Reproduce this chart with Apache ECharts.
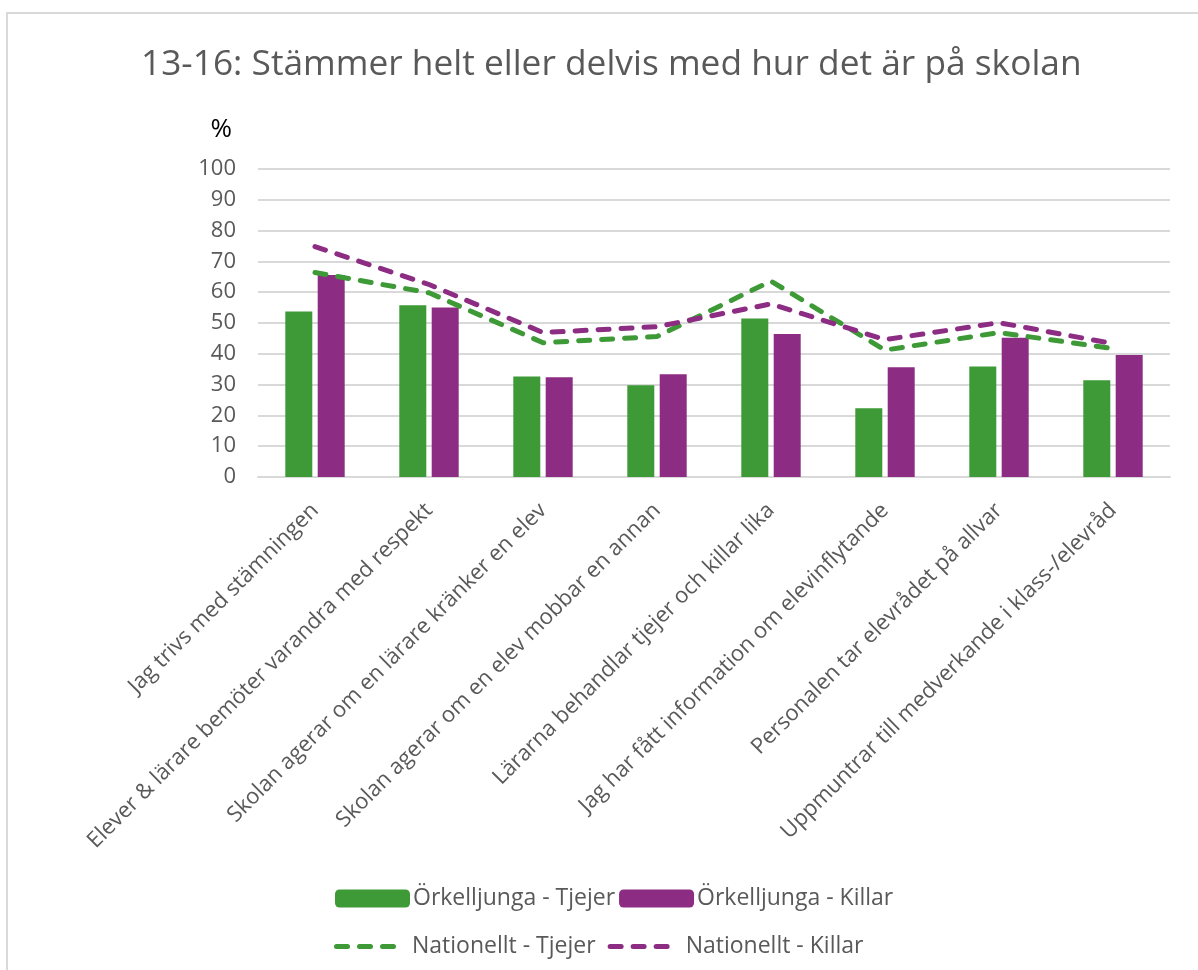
<!DOCTYPE html>
<html>
<head>
<meta charset="utf-8">
<title>13-16</title>
<script src="https://cdn.jsdelivr.net/npm/echarts@6/dist/echarts.min.js"></script>
<style>
    html, body { margin: 0; padding: 0; background: #fff; }
    #frame { position: absolute; left: 6px; top: 12px; width: 1200px; height: 1000px; border: 2px solid #d9d9d9; box-sizing: border-box; }
    #chart { position: absolute; left: 0; top: 0; width: 1198px; height: 970px; }
</style>
</head>
<body>
<div id="frame"></div>
<div id="chart"></div>
<script>
    var categories = [
        'Jag trivs med stämningen',
        'Elever & lärare bemöter varandra med respekt',
        'Skolan agerar om en lärare kränker en elev',
        'Skolan agerar om en elev mobbar en annan',
        'Lärarna behandlar tjejer och killar lika',
        'Jag har fått information om elevinflytande',
        'Personalen tar elevrådet på allvar',
        'Uppmuntrar till medverkande i klass-/elevråd'
    ];
    var orkTjejer = [53.7, 55.8, 32.6, 29.8, 51.5, 22.3, 35.9, 31.4];
    var orkKillar = [65.6, 55.0, 32.4, 33.4, 46.4, 35.6, 45.2, 39.6];
    var natTjejer = [66.4, 59.8, 43.6, 45.6, 63.6, 41.2, 46.9, 41.7];
    var natKillar = [74.8, 62.5, 46.9, 48.8, 56.2, 44.6, 50.1, 43.3];

    var green = '#3d9a36';
    var purple = '#8c2d83';
    var textColor = '#595959';
    var font = 'Open Sans';
    // three short dashes for the line legend icon
    var dashIcon = 'path://M2.5,0h11a2.5,2.5 0 0 1 0,5h-11a2.5,2.5 0 0 1 0,-5z' +
        'M25.5,0h11a2.5,2.5 0 0 1 0,5h-11a2.5,2.5 0 0 1 0,-5z' +
        'M48.5,0h11a2.5,2.5 0 0 1 0,5h-11a2.5,2.5 0 0 1 0,-5z';

    var myChart = echarts.init(document.getElementById('chart'));
    var option = {
        backgroundColor: 'transparent',
        textStyle: { fontFamily: font },
        title: {
            text: '13-16: Stämmer helt eller delvis med hur det är på skolan',
            left: 136,
            top: 42,
            textStyle: { fontFamily: font, fontSize: 35.3, fontWeight: 'normal', color: textColor }
        },
        legend: [
            {
                data: ['Örkelljunga - Tjejer', 'Örkelljunga - Killar'],
                left: 330,
                top: 882,
                itemWidth: 75,
                itemHeight: 18,
                itemGap: 4,
                textStyle: { fontSize: 23, color: textColor, padding: [0, 0, 0, -2] }
            },
            {
                data: [
                    { name: 'Nationellt - Tjejer', icon: dashIcon },
                    { name: 'Nationellt - Killar', icon: dashIcon }
                ],
                left: 329,
                top: 930,
                itemWidth: 64,
                itemHeight: 5,
                itemGap: 12,
                textStyle: { fontSize: 23, color: textColor, padding: [0, 0, 0, 10] }
            }
        ],
        grid: {
            left: 258,
            right: 28,
            top: 169,
            bottom: 493
        },
        xAxis: {
            type: 'category',
            data: categories,
            axisLine: { lineStyle: { color: '#d9d9d9', width: 2 } },
            axisTick: { show: false },
            axisLabel: {
                rotate: 45,
                interval: 0,
                margin: 30,
                fontSize: 22,
                color: textColor
            }
        },
        yAxis: {
            type: 'value',
            min: 0,
            max: 100,
            interval: 10,
            name: '%',
            nameLocation: 'end',
            nameGap: 26,
            nameTextStyle: { fontSize: 26, color: '#000', align: 'right', padding: [0, 26, 0, 0] },
            axisLine: { show: false },
            axisTick: { show: false },
            splitLine: { lineStyle: { color: '#d9d9d9', width: 2 } },
            axisLabel: { fontSize: 22, color: textColor, margin: 22 }
        },
        series: [
            {
                name: 'Örkelljunga - Tjejer',
                type: 'bar',
                data: orkTjejer,
                itemStyle: { color: green },
                barWidth: 27,
                barGap: '20%'
            },
            {
                name: 'Örkelljunga - Killar',
                type: 'bar',
                data: orkKillar,
                itemStyle: { color: purple },
                barWidth: 27,
                barGap: '20%'
            },
            {
                name: 'Nationellt - Tjejer',
                type: 'line',
                data: natTjejer,
                symbol: 'none',
                itemStyle: { color: green },
                lineStyle: { color: green, width: 5, type: [11, 12], cap: 'round' }
            },
            {
                name: 'Nationellt - Killar',
                type: 'line',
                data: natKillar,
                symbol: 'none',
                itemStyle: { color: purple },
                lineStyle: { color: purple, width: 5, type: [11, 12], cap: 'round' }
            }
        ]
    };

    myChart.setOption(option);
    window.onresize = function () {
        myChart.resize();
    };
</script>
</body>
</html>
